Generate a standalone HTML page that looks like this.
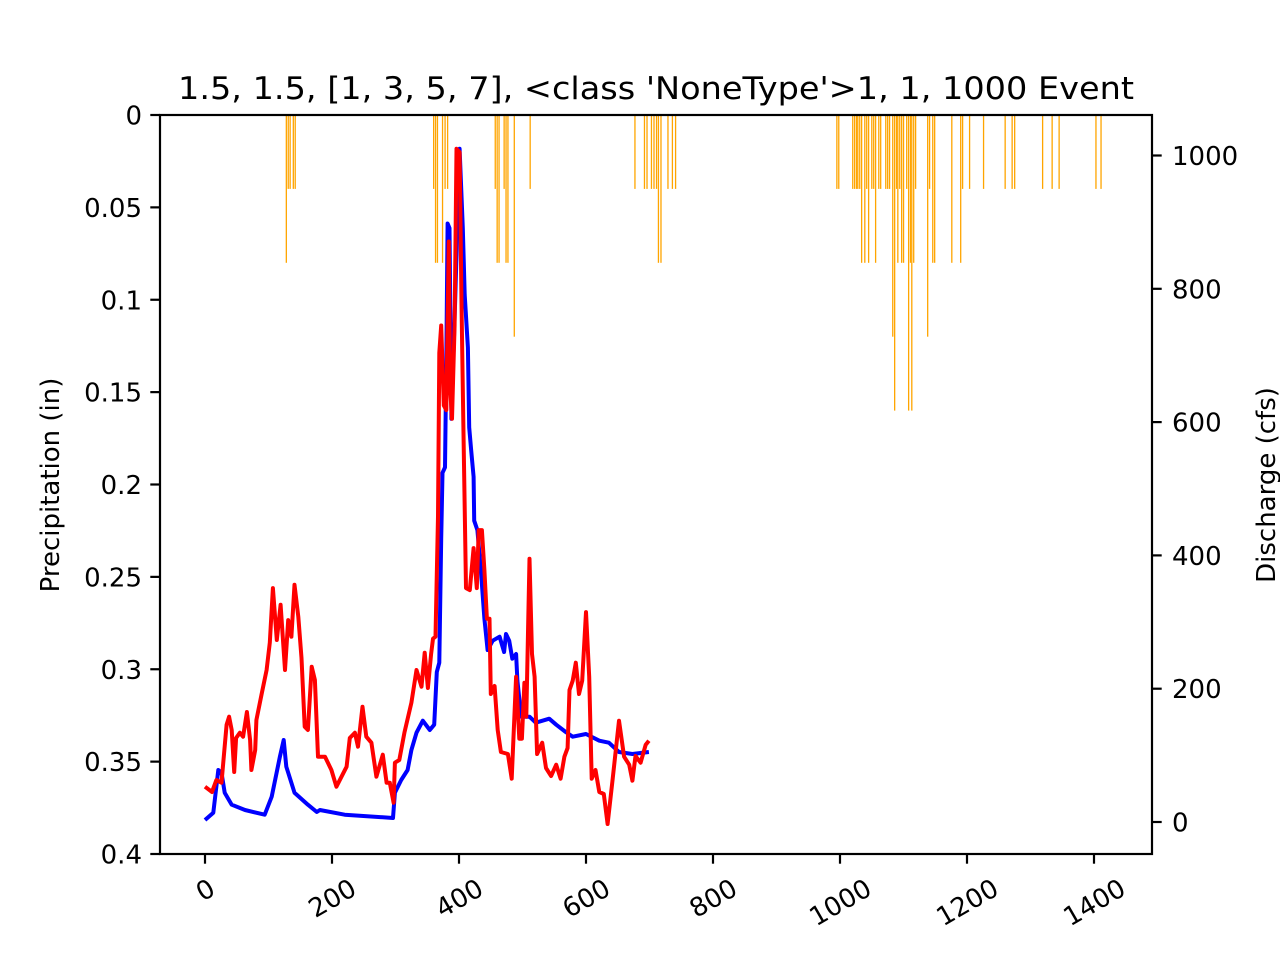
<!DOCTYPE html>
<html><head><meta charset="utf-8">
<style>
html,body{margin:0;padding:0;background:#fff;}
svg{display:block;font-family:"DejaVu Sans","Liberation Sans",sans-serif;}
</style></head>
<body>
<svg id="chart" width="1280" height="960" viewBox="0 0 1280 960" xmlns="http://www.w3.org/2000/svg">
<rect x="0" y="0" width="1280" height="960" fill="#fff"/>
<text x="656" y="99" font-size="31" text-anchor="middle" textLength="956" lengthAdjust="spacingAndGlyphs">1.5, 1.5, [1, 3, 5, 7], &lt;class 'NoneType'&gt;1, 1, 1000 Event</text>
<g id="bars"></g>
<g id="lines"></g>
<g id="axes"></g>
<text transform="translate(59,485) rotate(-90)" font-size="26" text-anchor="middle">Precipitation (in)</text>
<text transform="translate(1275,485) rotate(-90)" font-size="26" text-anchor="middle">Discharge (cfs)</text>
</svg>
<script>
const precipTimes = [128,131,134,139,142,360,363,366,374,378,382,457,460,463,471,474,477,487,512,677,692,696,703,707,711,714,718,729,736,741,
995,998,1020,1023,1026,1028,1031,1034,1039,1042,1045,1050,1053,1056,1061,1064,1072,1075,1078,1083,1086,1089,1091,1094,1097,1100,1105,1108,1111,1113,1116,1119,1138,1141,1146,1149,1176,1190,1193,1204,1226,1260,1271,1275,1319,1334,1345,1403,1411];
const precipValues = [0.08,0.04,0.04,0.04,0.04,0.04,0.08,0.08,0.08,0.04,0.04,0.04,0.08,0.08,0.04,0.08,0.08,0.12,0.04,0.04,0.04,0.04,0.04,0.04,0.04,0.08,0.08,0.04,0.04,0.04,
0.04,0.04,0.04,0.04,0.04,0.04,0.04,0.08,0.08,0.04,0.08,0.04,0.04,0.08,0.04,0.04,0.04,0.04,0.04,0.12,0.16,0.04,0.08,0.04,0.08,0.08,0.04,0.16,0.08,0.16,0.08,0.04,0.12,0.04,0.08,0.08,0.08,0.08,0.04,0.04,0.04,0.04,0.04,0.04,0.04,0.04,0.04,0.04,0.04];
const observedTimes = [0,13,21,26,31,42,63,94,105,118,124,128,141,162,176,181,220,296,299,309,319,325,333,343,354,361,365,369,372,374,378,380,382,385,388,394,401,406,409,414,416,419,423,424,429,435,440,445,453,464,471,474,479,484,490,492,498,511,521,542,553,568,579,600,621,636,652,673,699];
const observedCfs = [3,14,78,74,44,26,18,11,38,98,123,83,44,26,15,18,11,6,44,63,78,108,134,152,138,146,225,239,425,524,532,691,898,891,605,784,1010,891,791,712,592,559,518,452,438,371,305,258,272,278,255,282,272,245,252,212,158,158,149,155,146,135,128,132,122,119,105,102,105];
const simTimes = [0,11,18,26,34,38,42,46,49,55,60,66,71,73,79,81,89,97,102,107,113,119,126,131,136,141,147,152,157,162,168,173,178,189,199,207,215,223,228,236,241,248,254,262,270,280,286,291,297,299,306,314,325,333,341,346,351,356,359,363,367,369,372,376,380,384,386,389,393,396,401,404,407,411,417,423,428,431,436,440,444,448,450,456,461,466,477,483,490,495,499,503,506,511,515,519,523,531,537,545,553,560,566,571,574,579,584,589,594,600,605,609,615,621,628,634,642,652,660,668,673,678,686,694,699];
const simCfs = [53,45,63,59,146,158,138,75,126,134,128,165,123,78,108,153,191,228,269,351,273,326,228,303,278,356,308,246,143,138,233,213,98,98,78,53,68,83,126,134,113,173,128,119,68,101,59,59,29,89,93,134,179,228,203,254,201,252,275,278,458,704,745,625,618,871,652,605,745,1010,1005,778,592,351,348,411,351,438,438,378,305,305,192,204,138,105,102,65,218,125,125,209,158,395,252,218,102,119,81,69,86,65,98,111,198,212,239,192,212,315,218,65,78,45,42,-3,65,152,98,86,62,99,89,116,122];
const leftTicks = ["0","0.05","0.1","0.15","0.2","0.25","0.3","0.35","0.4"];
const leftTickValues = [0,0.05,0.1,0.15,0.2,0.25,0.3,0.35,0.4];
const rightTicks = ["0","200","400","600","800","1000"];
const rightTickValues = [0,200,400,600,800,1000];
const xTicks = ["0","200","400","600","800","1000","1200","1400"];
const xTickValues = [0,200,400,600,800,1000,1200,1400];

const NS = "http://www.w3.org/2000/svg";
const L = 160, R = 1152, T = 115, B = 854;
const xs = v => 205 + (v) * (459 - 205) / 400;
const yp = v => T + v / 0.4 * (B - T);
const yq = v => 822 - v * 0.6665;
function mk(tag, attrs, parent) {
  const el = document.createElementNS(NS, tag);
  for (const k in attrs) el.setAttribute(k, attrs[k]);
  parent.appendChild(el);
  return el;
}
const bars = document.getElementById('bars');
precipTimes.forEach((t, i) => {
  const x = xs(t);
  const r = mk('rect', {x: x - 0.6, y: T, width: 1.3, height: yp(precipValues[i]) - T, fill: '#ffa500'}, bars);
  
  
});
const lines = document.getElementById('lines');
function pathFor(ts, vs) { return ts.map((t, i) => (i ? 'L' : 'M') + xs(t).toFixed(1) + ',' + yq(vs[i]).toFixed(1)).join(''); }
const pb = mk('path', {d: pathFor(observedTimes, observedCfs), fill: 'none', stroke: '#0000ff', 'stroke-width': 4, 'stroke-linejoin': 'round'}, lines);


const pr = mk('path', {d: pathFor(simTimes, simCfs), fill: 'none', stroke: '#ff0000', 'stroke-width': 4, 'stroke-linejoin': 'round'}, lines);



const axes = document.getElementById('axes');
const frame = mk('rect', {x: L, y: T, width: R - L, height: B - T, fill: 'none', stroke: '#000', 'stroke-width': 2.2}, axes);


leftTickValues.forEach((v, i) => {
  const y = yp(v);
  const tk = mk('line', {x1: L - 9.7, x2: L, y1: y, y2: y, stroke: '#000', 'stroke-width': 2.2}, axes);
  
  
  const tx = mk('text', {x: 142, y: y + 9.5, 'font-size': 26, 'text-anchor': 'end'}, axes);
  tx.textContent = leftTicks[i];
  
  
});
rightTickValues.forEach((v, i) => {
  const y = yq(v);
  const tk = mk('line', {x1: R, x2: R + 9.7, y1: y, y2: y, stroke: '#000', 'stroke-width': 2.2}, axes);
  
  
  const tx = mk('text', {x: 1172, y: y + 9.5, 'font-size': 26, 'text-anchor': 'start'}, axes);
  tx.textContent = rightTicks[i];
  
  
});
xTickValues.forEach((v, i) => {
  const x = xs(v);
  const tk = mk('line', {x1: x, x2: x, y1: B, y2: B + 9.7, stroke: '#000', 'stroke-width': 2.2}, axes);
  
  
  const w = 16.5 * xTicks[i].length;
  const cy = 872 + (w * 0.5 + 31 * 0.866) / 2;
  const tx = mk('text', {x: 0, y: 9.5, 'font-size': 26, 'text-anchor': 'middle', transform: 'translate(' + x + ',' + cy + ') rotate(-30)'}, axes);
  tx.textContent = xTicks[i];
  
  
});
</script>
</body></html>
